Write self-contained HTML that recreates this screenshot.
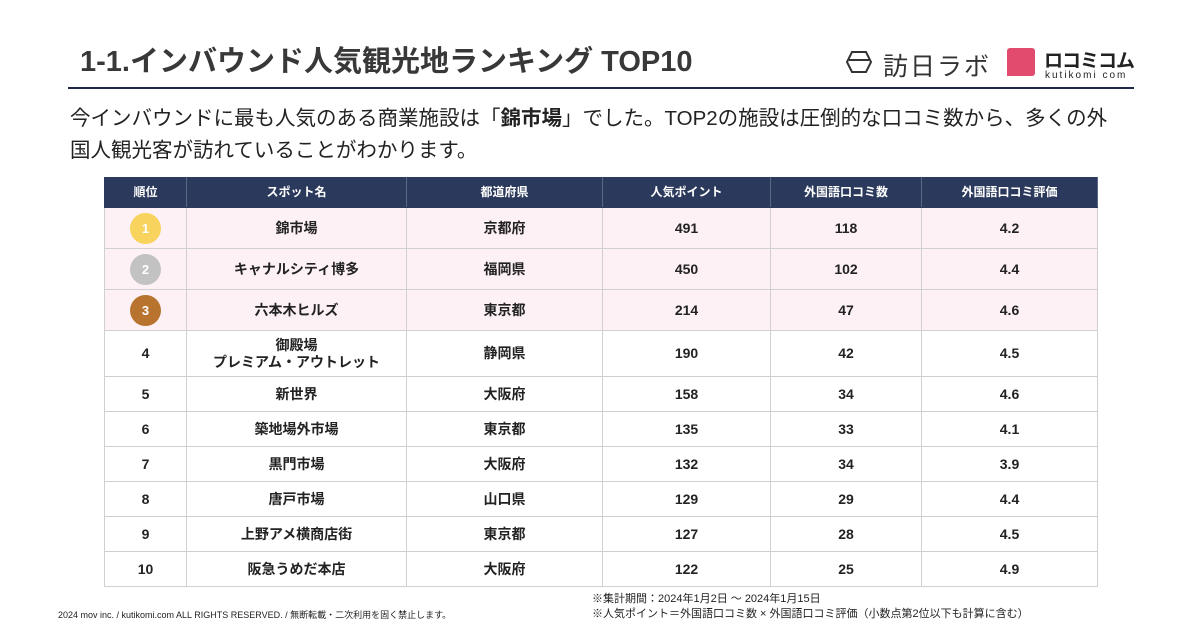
<!DOCTYPE html>
<html><head><meta charset="utf-8"><style>
*{margin:0;padding:0;box-sizing:border-box}
body{width:1200px;height:630px;background:#fff;position:relative;overflow:hidden;font-family:"Liberation Sans","Noto Sans CJK JP",sans-serif;color:#222}
.abs{position:absolute;white-space:nowrap}
table{position:absolute;left:104px;top:177px;border-collapse:collapse;table-layout:fixed;width:993px}
td,th{border:1px solid #d0d0d0;text-align:center;font-size:14px;font-weight:bold;color:#222;line-height:17px}
th{background:#2b3a5c;color:#fff;font-size:12px;height:30px;border-color:#2b3a5c;border-right:1px solid #5a6885}
tr.top td{background:#fdf1f5}
.medal{display:inline-block;width:31px;height:31px;border-radius:50%;color:#fff;font-size:13px;line-height:31px;font-weight:bold}
</style></head><body>
<div class="abs" style="left:80px;top:38px;font-size:29px;font-weight:bold;color:#383838">1-1.インバウンド人気観光地ランキング TOP10</div>
<div class="abs" style="left:68px;top:87px;width:1066px;height:2px;background:#1d2848"></div>
<svg class="abs" style="left:846px;top:50px" width="26" height="24" viewBox="0 0 26 24"><polygon points="6,2 20,2 25,12 20,22 6,22 1,12" fill="none" stroke="#333" stroke-width="2"/><line x1="3" y1="10" x2="23" y2="10" stroke="#333" stroke-width="2"/></svg>
<div class="abs" style="left:883px;top:47px;font-size:25px;color:#333;letter-spacing:2px">訪日ラボ</div>
<div class="abs" style="left:1007px;top:48px;width:28px;height:28px;background:#e24a6e;border-radius:3px 3px 3px 0"></div>
<div class="abs" style="left:1044px;top:46px;font-size:19px;font-weight:bold;color:#222;letter-spacing:-1px">ロコミコム</div>
<div class="abs" style="left:1045px;top:70px;font-size:10px;color:#222;letter-spacing:2px">kutikomi com</div>
<div class="abs" style="left:70px;top:103px;font-size:20.5px;line-height:32px;color:#222;white-space:normal;width:1100px">今インバウンドに最も人気のある商業施設は「<b>錦市場</b>」でした。TOP2の施設は圧倒的な口コミ数から、多くの外<br>国人観光客が訪れていることがわかります。</div>
<table>
<colgroup><col style="width:82px"><col style="width:220px"><col style="width:196px"><col style="width:168px"><col style="width:151px"><col style="width:176px"></colgroup>
<tr><th>順位</th><th>スポット名</th><th>都道府県</th><th>人気ポイント</th><th>外国語口コミ数</th><th>外国語口コミ評価</th></tr>
<tr class="top" style="height:41px"><td><span class="medal" style="background:#f8d35e">1</span></td><td>錦市場</td><td>京都府</td><td>491</td><td>118</td><td>4.2</td></tr>
<tr class="top" style="height:41px"><td><span class="medal" style="background:#c2c2c2">2</span></td><td>キャナルシティ博多</td><td>福岡県</td><td>450</td><td>102</td><td>4.4</td></tr>
<tr class="top" style="height:41px"><td><span class="medal" style="background:#b8732e">3</span></td><td>六本木ヒルズ</td><td>東京都</td><td>214</td><td>47</td><td>4.6</td></tr>
<tr style="height:46px"><td>4</td><td>御殿場<br>プレミアム・アウトレット</td><td>静岡県</td><td>190</td><td>42</td><td>4.5</td></tr>
<tr style="height:35px"><td>5</td><td>新世界</td><td>大阪府</td><td>158</td><td>34</td><td>4.6</td></tr>
<tr style="height:35px"><td>6</td><td>築地場外市場</td><td>東京都</td><td>135</td><td>33</td><td>4.1</td></tr>
<tr style="height:35px"><td>7</td><td>黒門市場</td><td>大阪府</td><td>132</td><td>34</td><td>3.9</td></tr>
<tr style="height:35px"><td>8</td><td>唐戸市場</td><td>山口県</td><td>129</td><td>29</td><td>4.4</td></tr>
<tr style="height:35px"><td>9</td><td>上野アメ横商店街</td><td>東京都</td><td>127</td><td>28</td><td>4.5</td></tr>
<tr style="height:35px"><td>10</td><td>阪急うめだ本店</td><td>大阪府</td><td>122</td><td>25</td><td>4.9</td></tr>
</table>
<div class="abs" style="left:592px;top:590px;font-size:11px;color:#222">※集計期間：2024年1月2日 ～ 2024年1月15日</div>
<div class="abs" style="left:592px;top:605px;font-size:11px;color:#222">※人気ポイント＝外国語口コミ数 × 外国語口コミ評価（小数点第2位以下も計算に含む）</div>
<div class="abs" style="left:58px;top:608px;font-size:9px;color:#222">2024 mov inc. / kutikomi.com ALL RIGHTS RESERVED. / 無断転載・二次利用を固く禁止します。</div>
</body></html>
